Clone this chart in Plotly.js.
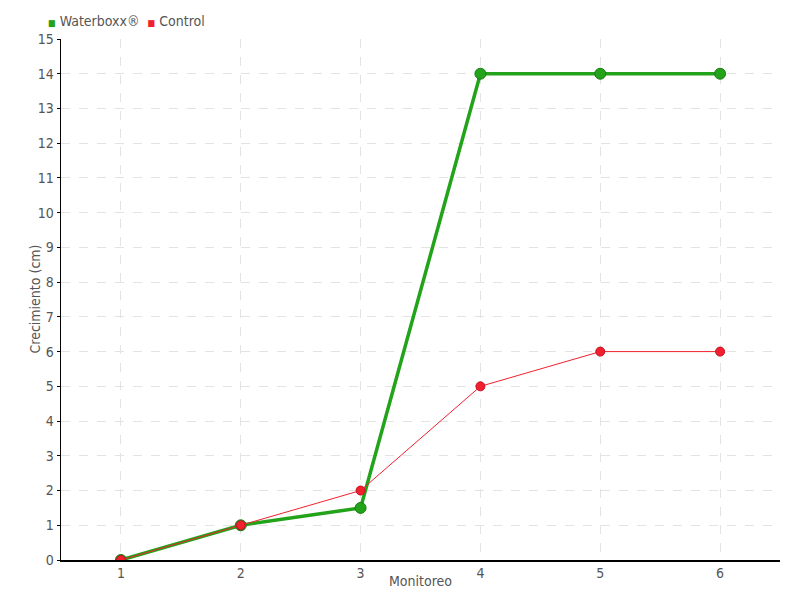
<!DOCTYPE html>
<html>
<head>
<meta charset="utf-8">
<script src="https://cdn.plot.ly/plotly-3.0.1.min.js"></script>
<style>html,body{margin:0;padding:0;background:#fff;}#chart{width:800px;height:600px;}</style>
</head>
<body>
<div id="chart"></div>
<script>
var monitoreo = [1, 2, 3, 4, 5, 6];
var waterboxx = [0, 1, 1.5, 14, 14, 14];
var control = [0, 1, 2, 5, 6, 6];
var seriesNames = ["Waterboxx®", "Control"];
var yTicks = [0,1,2,3,4,5,6,7,8,9,10,11,12,13,14,15];
var xTitle = "Monitoreo";
var yTitle = "Crecimiento (cm)";

var FONT = "DejaVu Sans Condensed, Liberation Sans Narrow, sans-serif";
var green = "#22a31a";
var red = "#f2202f";

var traces = [
  {
    x: monitoreo, y: waterboxx, name: seriesNames[0], mode: "lines+markers",
    line: {color: green, width: 3.5},
    marker: {color: green, size: 11, line: {color: "#1a7d14", width: 1}},
    showlegend: false
  },
  {
    x: monitoreo, y: control, name: seriesNames[1], mode: "lines+markers",
    line: {color: red, width: 1},
    marker: {color: red, size: 9, line: {color: "#c01020", width: 1}},
    showlegend: false
  }
];

var legendText = '<span style="color:' + green + ';font-size:9px">■</span> ' + seriesNames[0] +
  '  <span style="color:' + red + ';font-size:9px">■</span> ' + seriesNames[1];

var layout = {
  width: 800, height: 600,
  margin: {l: 61, r: 20, t: 39, b: 40},
  paper_bgcolor: "#fff", plot_bgcolor: "#fff",
  font: {family: FONT, size: 14, color: "#555"},
  showlegend: false,
  annotations: [
    {
      xref: "paper", yref: "paper", x: -15/719, y: 1 + 18/521,
      xanchor: "left", yanchor: "middle", showarrow: false,
      text: legendText, font: {family: FONT, size: 14, color: "#555"}
    },
    {
      xref: "paper", yref: "paper", x: 0.5, y: -21/521,
      xanchor: "center", yanchor: "middle", showarrow: false,
      text: xTitle, font: {family: FONT, size: 14, color: "#555"}
    },
    {
      xref: "paper", yref: "paper", x: -27/719, y: 0.5, textangle: -90,
      xanchor: "center", yanchor: "middle", showarrow: false,
      text: yTitle, font: {family: FONT, size: 14, color: "#555"}
    }
  ],
  xaxis: {
    range: [0.5, 6.5], tickmode: "array", tickvals: monitoreo, ticktext: monitoreo.map(String),
    showline: true, linecolor: "#000", linewidth: 1.5,
    ticks: "",
    showgrid: true, gridcolor: "#e3e3e3", griddash: "dash", gridwidth: 1,
    zeroline: false,
    tickfont: {family: FONT, size: 14, color: "#555"}
  },
  yaxis: {
    range: [0, 15], tickmode: "array", tickvals: yTicks, ticktext: yTicks.map(String),
    showline: true, linecolor: "#000", linewidth: 1.5,
    ticks: "outside", ticklen: 3, tickcolor: "#000",
    showgrid: true, gridcolor: "#e3e3e3", griddash: "dash", gridwidth: 1,
    zeroline: false,
    tickfont: {family: FONT, size: 14, color: "#555"}
  }
};

Plotly.newPlot("chart", traces, layout, {displayModeBar: false, staticPlot: true});
</script>
</body>
</html>
